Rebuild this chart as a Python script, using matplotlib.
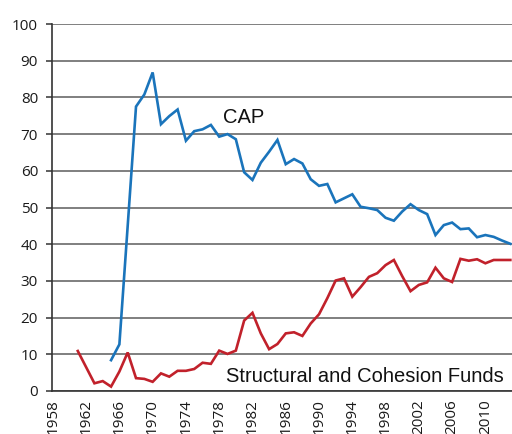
import numpy as np
import matplotlib
matplotlib.use("Agg")
from matplotlib import pyplot as plt

# CAP share of budget, 1965-2013
cap_years = list(range(1965, 2014))
cap_values = [8.4, 12.7, 45.0, 77.5, 80.8, 86.8, 72.7, 74.9, 76.7, 68.2,
              70.8, 71.3, 72.5, 69.3, 70.0, 68.6, 59.6, 57.5, 62.2, 65.2,
              68.4, 61.8, 63.2, 62.0, 57.7, 55.9, 56.4, 51.4, 52.5, 53.6,
              50.2, 49.8, 49.3, 47.2, 46.4, 48.9, 50.9, 49.3, 48.2, 42.5,
              45.2, 45.9, 44.1, 44.3, 41.9, 42.5, 42.0, 41.0, 40.1]

# structural and cohesion funds, 1961-2013
scf_years = list(range(1961, 2014))
scf_values = [10.9, 6.5, 2.1, 2.7, 1.2, 5.3, 10.5, 3.5, 3.3, 2.5,
              4.8, 3.9, 5.5, 5.5, 6.0, 7.7, 7.4, 11.0, 10.1, 11.0,
              19.2, 21.3, 15.7, 11.4, 12.8, 15.7, 16.0, 15.0, 18.4, 20.9,
              25.3, 30.1, 30.7, 25.7, 28.3, 31.1, 32.1, 34.3, 35.7, 31.3,
              27.2, 28.9, 29.6, 33.6, 30.7, 29.7, 36.0, 35.5, 35.9, 34.8,
              35.7, 35.7, 35.7]

x_ticks = list(range(1958, 2011, 4))
y_ticks = list(range(0, 101, 10))

W, H = 512, 434
fig = plt.figure(figsize=(W / 100, H / 100), dpi=100)
ax = fig.add_axes([52 / W, 1 - 391 / H, (W - 52) / W, (391 - 24) / H])

ax.plot(cap_years, cap_values, color="#1a74bb", lw=1.9, solid_joinstyle="miter")
ax.plot(scf_years, scf_values, color="#c1212b", lw=1.9, solid_joinstyle="miter")

ax.set_xlim(1957.9, 2013.2)
ax.set_ylim(0, 100)
ax.set_yticks(y_ticks)
ax.set_xticks(x_ticks)
ax.set_xticklabels([str(y) for y in x_ticks], rotation=90, va="top", ha="center")

ax.yaxis.grid(True, color="#6a6a6a", lw=1.2)
ax.set_axisbelow(True)
for s in ["top", "right"]:
    ax.spines[s].set_visible(False)
ax.spines["left"].set_color("#333333")
ax.spines["bottom"].set_color("#333333")
ax.spines["left"].set_linewidth(1.2)
ax.spines["bottom"].set_linewidth(1.2)

ax.tick_params(axis="y", length=4, width=1.1, color="#333333", pad=6,
               labelsize=11, labelcolor="#1a1a1a")
ax.tick_params(axis="x", length=0, pad=6, labelsize=11, labelcolor="#1a1a1a")
for lab in ax.get_xticklabels() + ax.get_yticklabels():
    lab.set_family(["Open Sans", "DejaVu Sans"])

lab_font = ["Liberation Sans", "DejaVu Sans"]
ax.text(1978.5, 73.0, "CAP", fontsize=14.5, family=lab_font, color="#111111",
        ha="left", va="baseline")
ax.text(1978.8, 2.4, "Structural and Cohesion Funds", fontsize=14.5,
        family=lab_font, color="#111111", ha="left", va="baseline")

fig.savefig("out.png", dpi=100)
